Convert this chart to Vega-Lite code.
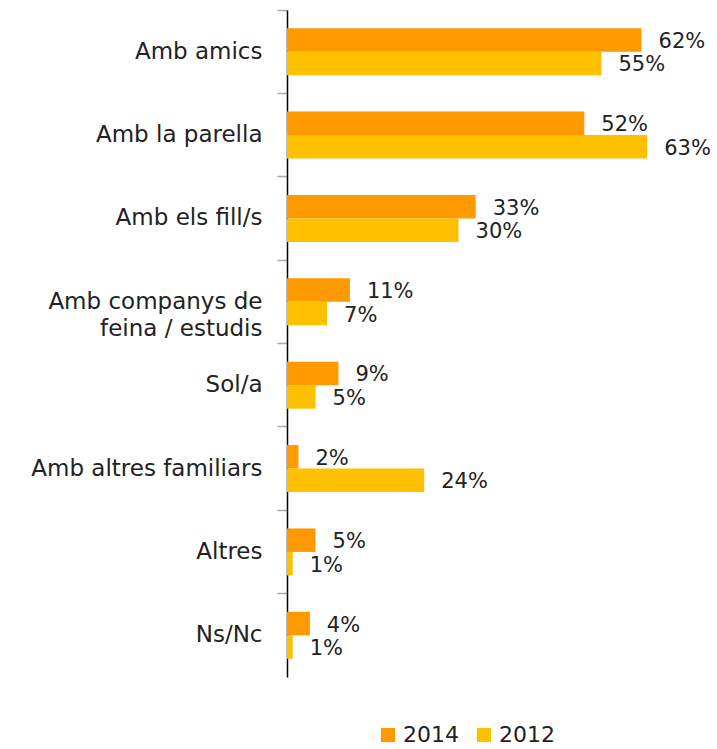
{
  "$schema": "https://vega.github.io/schema/vega-lite/v6.json",
  "width": 430,
  "height": 667,
  "autosize": {"type": "none"},
  "padding": {"left": 287, "top": 10, "right": 0, "bottom": 72},
  "background": "white",
  "config": {"view": {"stroke": null}, "font": "DejaVu Sans"},
  "data": {"values": [
    {"cat": "Amb amics", "year": "2014", "value": 0.62},
    {"cat": "Amb amics", "year": "2012", "value": 0.55},
    {"cat": "Amb la parella", "year": "2014", "value": 0.52},
    {"cat": "Amb la parella", "year": "2012", "value": 0.63},
    {"cat": "Amb els fill/s", "year": "2014", "value": 0.33},
    {"cat": "Amb els fill/s", "year": "2012", "value": 0.30},
    {"cat": "Amb companys de feina / estudis", "year": "2014", "value": 0.11},
    {"cat": "Amb companys de feina / estudis", "year": "2012", "value": 0.07},
    {"cat": "Sol/a", "year": "2014", "value": 0.09},
    {"cat": "Sol/a", "year": "2012", "value": 0.05},
    {"cat": "Amb altres familiars", "year": "2014", "value": 0.02},
    {"cat": "Amb altres familiars", "year": "2012", "value": 0.24},
    {"cat": "Altres", "year": "2014", "value": 0.05},
    {"cat": "Altres", "year": "2012", "value": 0.01},
    {"cat": "Ns/Nc", "year": "2014", "value": 0.04},
    {"cat": "Ns/Nc", "year": "2012", "value": 0.01}
  ]},
  "encoding": {
    "y": {
      "field": "cat", "type": "nominal", "sort": null,
      "scale": {"paddingInner": 0, "paddingOuter": 0},
      "axis": {
        "title": null, "bandPosition": 0,
        "domainColor": "#000", "domainWidth": 1.5,
        "tickColor": "#aaa", "tickSize": 10, "tickWidth": 1.5,
        "labelFontSize": 23, "labelColor": "#222", "labelPadding": 15,
        "labelLimit": 300, "labelLineHeight": 27,
        "labelExpr": "datum.value == 'Amb companys de feina / estudis' ? ['Amb companys de', 'feina / estudis'] : datum.value == 'Amb altres familiars' ? 'Amb altres familiars\u00a0' : datum.value"
      }
    },
    "yOffset": {"field": "year", "type": "nominal", "scale": {"domain": ["2014", "2012"], "paddingOuter": 0.775, "paddingInner": 0}},
    "x": {"field": "value", "type": "quantitative", "scale": {"domain": [0, 0.752]}, "axis": null}
  },
  "layer": [
    {
      "mark": {"type": "bar"},
      "encoding": {
        "color": {
          "field": "year", "type": "nominal",
          "scale": {"domain": ["2014", "2012"], "range": ["#FF9900", "#FFC000"]},
          "legend": {
            "title": null, "orient": "none", "direction": "horizontal",
            "legendX": 90, "legendY": 714,
            "symbolType": "square", "symbolSize": 200, "symbolStrokeWidth": 0,
            "labelFontSize": 22, "labelColor": "#222", "columnPadding": 14, "labelOffset": 4
          }
        }
      }
    },
    {
      "mark": {"type": "text", "align": "left", "baseline": "middle", "dx": 17, "dy": 2, "fontSize": 21, "fill": "#222"},
      "encoding": {"text": {"field": "value", "type": "quantitative", "format": ".0%"}}
    }
  ]
}
